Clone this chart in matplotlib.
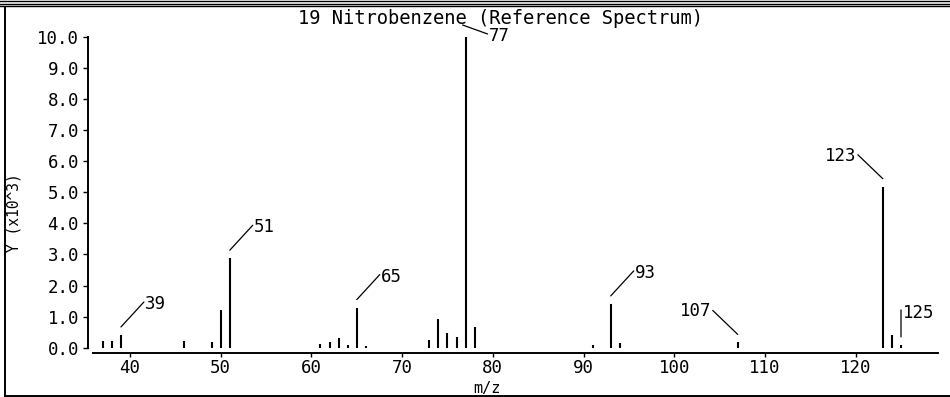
import matplotlib
matplotlib.use('Agg')
import matplotlib.pyplot as plt
from matplotlib.lines import Line2D
from matplotlib.transforms import offset_copy

# --- datos del espectro (intensidad en unidades de 10^3) ---
mz = [37, 38, 39, 46, 49, 50, 51, 61, 62, 63, 64, 65, 66,
      73, 74, 75, 76, 77, 78, 91, 93, 94, 107, 123, 124, 125]
intensidad = [0.22, 0.22, 0.41, 0.22, 0.17, 1.21, 2.88, 0.11, 0.17, 0.30, 0.09, 1.29, 0.06,
              0.25, 0.92, 0.48, 0.35, 10.0, 0.66, 0.09, 1.41, 0.16, 0.17, 5.18, 0.41, 0.09]

picos = [39, 51, 65, 77, 93, 107, 123, 125]
titulo = "19 Nitrobenzene (Reference Spectrum)"
xticks = [40, 50, 60, 70, 80, 90, 100, 110, 120]
yticks = [0, 1, 2, 3, 4, 5, 6, 7, 8, 9, 10]

FUENTE = 'DejaVu Sans Mono'
PX = 0.72  # puntos por pixel a 100 dpi

# estilo de etiqueta: (inicio linea, fin linea, texto, alineacion) en pixeles
derecha = ((0, 8), (23, 33), (24, 31), 'left')
izquierda = ((0, 8), (-25, 32), (-26, 31), 'right')
estilos = {
    39: derecha, 51: derecha, 65: derecha, 93: derecha,
    107: izquierda, 123: izquierda,
    77: ((-3, 12), (22, 3), (23, 1), 'left'),
    125: ((0, 8), (0, 35), (2, 32), 'left'),
}


def dibujar():
    plt.rcParams['font.family'] = FUENTE
    fig = plt.figure(figsize=(9.5, 3.97), dpi=100)
    ax = fig.add_axes([93 / 950, 1 - 347.7 / 397, 845 / 950, 310.7 / 397])

    ax.vlines(mz, 0, intensidad, color='black', lw=1.5)

    ax.set_xlim(35.92, 129.08)
    ax.set_ylim(0, 10)
    ax.set_xticks(xticks)
    ax.set_yticks(yticks)
    ax.set_yticklabels([f"{v:.1f}" for v in yticks])

    for s in ['top', 'right']:
        ax.spines[s].set_visible(False)
    for s in ['left', 'bottom']:
        ax.spines[s].set_position(('outward', 5 * PX))
        ax.spines[s].set_linewidth(1.4)
    ax.tick_params(axis='both', direction='out', width=1, labelsize=12.5, colors='black')
    ax.tick_params(axis='y', length=5 * PX, pad=4 * PX)
    ax.tick_params(axis='x', length=4 * PX, pad=2 * PX)

    # etiquetas de picos con linea guia separada de la barra
    for p in picos:
        v = intensidad[mz.index(p)]
        ini, fin, txt, ha = estilos[p]
        trans_ini = offset_copy(ax.transData, fig=fig, x=ini[0] * PX, y=ini[1] * PX, units='points')
        ax.annotate('', xy=(p, v), xycoords=trans_ini,
                    xytext=((fin[0] - ini[0]) * PX, (fin[1] - ini[1]) * PX), textcoords='offset points',
                    arrowprops=dict(arrowstyle='-', lw=0.9, color='black', shrinkA=0, shrinkB=0),
                    annotation_clip=False)
        ax.annotate(str(p), xy=(p, v), xytext=(txt[0] * PX, txt[1] * PX), textcoords='offset points',
                    ha=ha, va='center', fontsize=12.5, annotation_clip=False)

    fig.text(500 / 950, 1 - 19 / 397, titulo, ha='center', va='center', fontsize=13.5)
    fig.text(14 / 950, 1 - 213 / 397, "Y (x10^3)", rotation=90, ha='center', va='center', fontsize=10.5)
    fig.text(487 / 950, 1 - 389 / 397, "m/z", ha='center', va='center', fontsize=11)

    # marco de la ventana
    for y in [1, 3.5, 6]:
        fig.add_artist(Line2D([0, 1], [1 - y / 397] * 2, color='black', lw=1.0))
    fig.add_artist(Line2D([5 / 950] * 2, [1 - 7 / 397, 1 - 396 / 397], color='black', lw=1.4))
    fig.add_artist(Line2D([5 / 950, 1], [1 - 396 / 397] * 2, color='black', lw=1.4))

    fig.savefig('out.png', dpi=100)
    plt.close(fig)


if __name__ == "__main__":
    dibujar()
